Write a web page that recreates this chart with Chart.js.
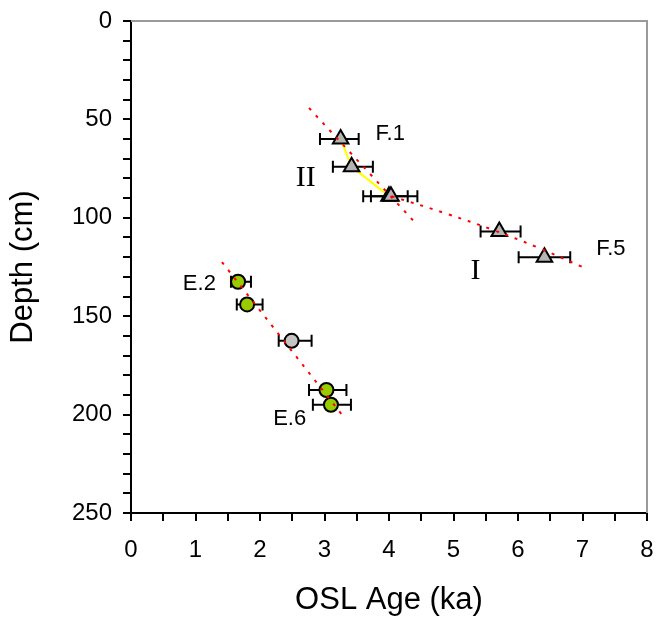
<!DOCTYPE html>
<html>
<head>
<meta charset="utf-8">
<script src="https://cdn.jsdelivr.net/npm/chart.js@4/dist/chart.umd.min.js"></script>
<style>
  html, body { margin: 0; padding: 0; background: #fff; }
  .chart-container { position: relative; width: 658px; height: 625px; }
</style>
</head>
<body>
<div class="chart-container"><canvas id="chart"></canvas></div>
<script>
// section F samples (triangles)
const triAge = [3.25, 3.42, 4.0, 4.03, 5.71, 6.41]
const triDepth = [60, 74, 89, 89, 107, 120]
const triErrLo = [0.32, 0.29, 0.28, 0.43, 0.29, 0.40]
const triErrHi = [0.28, 0.33, 0.29, 0.41, 0.33, 0.40]

// section E samples (circles)
const circAge = [1.66, 1.80, 2.49, 3.03, 3.10]
const circDepth = [132.5, 144, 162.5, 187.5, 195]
const circErrLo = [0.11, 0.16, 0.20, 0.27, 0.28]
const circErrHi = [0.20, 0.24, 0.31, 0.31, 0.31]

// trend lines
const fitEAge = [1.41, 3.31]
const fitEDepth = [122.5, 201.7]
const fitIIAge = [2.76, 4.44]
const fitIIDepth = [44.2, 103.7]
const fitIAge = [4.04, 4.9, 5.6, 6.3, 7.0]
const fitIDepth = [89, 98, 106, 115, 125]
const linkAge = [3.25, 3.42, 4.0]
const linkDepth = [60, 74, 89]

// labels in the plot
const noteText = ['F.1', 'II', 'I', 'F.5', 'E.2', 'E.6']
const noteAge = [4.02, 2.71, 5.34, 7.44, 1.06, 2.46]
const noteDepth = [57.4, 80, 127.3, 116, 133.4, 202]

const xTicks = { min: 0, max: 8, step: 0.5 }
const yTicks = { min: 0, max: 250, step: 10 }

const pts = (xs, ys) => xs.map((v, i) => ({ x: v, y: ys[i] }))

const sans = "'Liberation Sans', Arial, sans-serif"
const serif = "'Liberation Serif', 'Times New Roman', serif"

const errorBars = {
  id: 'errorBars',
  beforeDatasetsDraw(chart) {
    const { ctx, scales: { x, y } } = chart
    ctx.save()
    ctx.strokeStyle = '#000'
    ctx.lineWidth = 2
    const groups = [
      [triAge, triDepth, triErrLo, triErrHi],
      [circAge, circDepth, circErrLo, circErrHi],
    ]
    groups.forEach(([ages, depths, lo, hi]) => {
      ages.forEach((a, i) => {
        const py = y.getPixelForValue(depths[i])
        const x0 = x.getPixelForValue(a - lo[i])
        const x1 = x.getPixelForValue(a + hi[i])
        ctx.beginPath()
        ctx.moveTo(x0, py); ctx.lineTo(x1, py)
        ctx.moveTo(x0, py - 6); ctx.lineTo(x0, py + 6)
        ctx.moveTo(x1, py - 6); ctx.lineTo(x1, py + 6)
        ctx.stroke()
      })
    })
    ctx.restore()
  },
}

const notes = {
  id: 'notes',
  afterDatasetsDraw(chart) {
    const { ctx, scales: { x, y } } = chart
    ctx.save()
    ctx.fillStyle = '#000'
    ctx.textAlign = 'center'
    ctx.textBaseline = 'middle'
    noteText.forEach((t, i) => {
      const roman = t === 'I' || t === 'II'
      ctx.font = roman ? `30px ${serif}` : `22px ${sans}`
      ctx.fillText(t, x.getPixelForValue(noteAge[i]), y.getPixelForValue(noteDepth[i]))
    })
    ctx.restore()
  },
}

// grey top and right edges of the plot box
const frame = {
  id: 'frame',
  beforeDatasetsDraw(chart) {
    const { ctx, chartArea: a } = chart
    ctx.save()
    ctx.strokeStyle = '#9a9a9a'
    ctx.lineWidth = 2
    ctx.beginPath()
    ctx.moveTo(a.left, a.top); ctx.lineTo(a.right, a.top); ctx.lineTo(a.right, a.bottom)
    ctx.stroke()
    ctx.restore()
  },
}

const dotted = { borderColor: '#ff0000', borderWidth: 2, borderDash: [3, 7], pointRadius: 0, showLine: true, fill: false }

const data = {
  datasets: [
    { label: 'fit I', data: pts(fitIAge, fitIDepth), tension: 0.4, ...dotted },
    { label: 'fit II', data: pts(fitIIAge, fitIIDepth), ...dotted },
    { label: 'fit E', data: pts(fitEAge, fitEDepth), ...dotted },
    {
      label: 'F',
      data: pts(triAge, triDepth),
      pointStyle: 'triangle',
      pointRadius: 9,
      backgroundColor: '#b4b4b4',
      borderColor: '#000',
      borderWidth: 2,
    },
    {
      label: 'E',
      data: pts(circAge, circDepth),
      pointStyle: 'circle',
      pointRadius: 7,
      backgroundColor: (c) => (c.dataIndex === 2 ? '#c4c4c4' : '#99cc00'),
      borderColor: '#000',
      borderWidth: 2,
    },
    { label: 'link', data: pts(linkAge, linkDepth), borderColor: '#ffff00', borderWidth: 2, pointRadius: 0, showLine: true },
  ],
}

const config = {
  type: 'scatter',
  data: data,
  options: {
    responsive: true,
    maintainAspectRatio: false,
    animation: false,
    layout: { padding: { top: 21, right: 10, left: 0, bottom: 0 } },
    plugins: { legend: { display: false }, tooltip: { enabled: false } },
    scales: {
      x: {
        type: 'linear',
        position: 'bottom',
        min: xTicks.min,
        max: xTicks.max,
        afterFit: (s) => { s.height = 112; s.paddingLeft = 0; s.paddingRight = 0 },
        ticks: {
          stepSize: xTicks.step,
          autoSkip: false,
          maxRotation: 0,
          color: '#000',
          padding: 15,
          font: { family: sans, size: 24 },
          callback: (v) => (Number.isInteger(v) ? v : ''),
        },
        grid: { drawOnChartArea: false, drawTicks: true, tickLength: 8, color: '#000', lineWidth: 2 },
        border: { color: '#000', width: 2 },
        title: { display: true, text: 'OSL Age (ka)', color: '#000', font: { family: sans, size: 31 }, padding: { top: 0, bottom: 6 } },
      },
      y: {
        type: 'linear',
        reverse: true,
        min: yTicks.min,
        max: yTicks.max,
        afterFit: (s) => { s.width = 131; s.paddingTop = 0; s.paddingBottom = 0 },
        ticks: {
          stepSize: yTicks.step,
          autoSkip: false,
          color: '#000',
          padding: 11,
          font: { family: sans, size: 24 },
          callback: (v) => (v % 50 === 0 ? v : ''),
        },
        grid: { drawOnChartArea: false, drawTicks: true, tickLength: 8, color: '#000', lineWidth: 2 },
        border: { color: '#000', width: 2 },
        title: { display: true, text: 'Depth (cm)', color: '#000', font: { family: sans, size: 31 }, padding: { top: 5, bottom: 0 } },
      },
    },
  },
  plugins: [frame, errorBars, notes],
}

const myChart = new Chart(document.getElementById('chart'), config)
</script>
</body>
</html>
